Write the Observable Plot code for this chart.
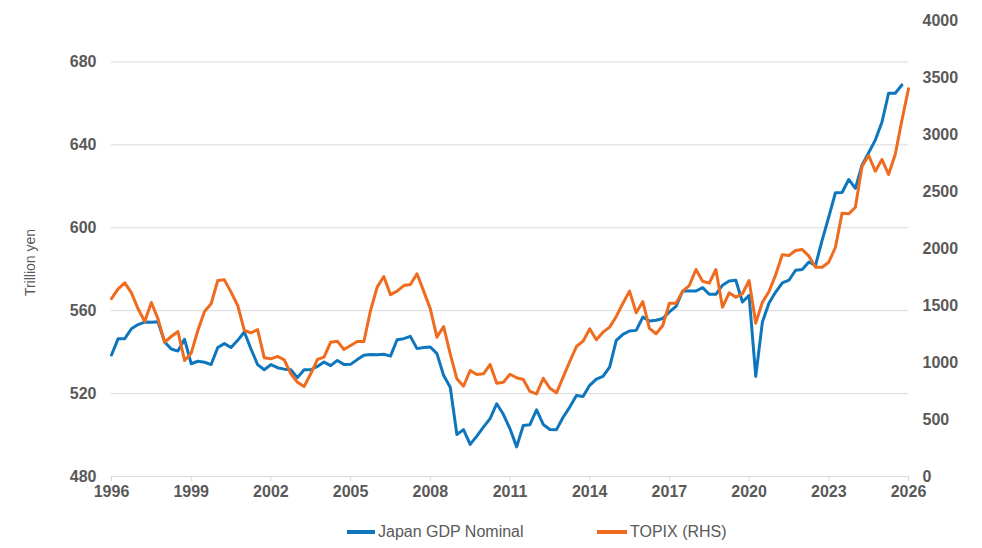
<!DOCTYPE html>
<html>
<head>
<meta charset="utf-8">
<script src="https://cdn.jsdelivr.net/npm/d3@7"></script>
<script src="https://cdn.jsdelivr.net/npm/@observablehq/plot@0.6"></script>
<style>
  html, body { margin: 0; padding: 0; background: #fff; }
  #wrap { position: relative; width: 982px; height: 548px; font-family: "Liberation Sans", Arial, sans-serif; }
  .leg { position: absolute; top: 522px; height: 20px; line-height: 20px; font-size: 16px; color: #595959; white-space: nowrap; }
  .sw { display: inline-block; vertical-align: middle; height: 4px; margin-right: 3px; position: relative; top: -1px; }
</style>
</head>
<body>
<div id="wrap">
  <div id="chart"></div>
  <div class="leg" style="left:347px"><span class="sw" style="width:28px;background:#0e76bc"></span>Japan GDP Nominal</div>
  <div class="leg" style="left:597px"><span class="sw" style="width:30px;background:#ef6b1e"></span>TOPIX (RHS)</div>
</div>
<script>
// Quarterly series starting 1996 Q1
const startYear = 1996;
const gdp = [
  538.6, 546.5, 546.5, 551.3, 553.3, 554.5, 554.4, 554.7, 544.9, 541.5,
  540.5, 546.2, 534.4, 535.6, 535.1, 534.0, 542.2, 544.1, 542.2, 545.7,
  549.7, 541.5, 534.0, 531.5, 534.0, 532.5, 531.8, 531.5, 527.7, 531.5,
  531.5, 533.1, 535.2, 533.5, 536.0, 534.0, 534.1, 536.4, 538.5, 538.9,
  538.7, 539.0, 538.1, 546.0, 546.5, 547.6, 541.7, 542.2, 542.5, 539.3,
  528.8, 523.1, 500.3, 502.6, 495.5, 499.5, 503.8, 507.9, 515.1, 510.0,
  503.0, 494.3, 504.6, 505.0, 512.2, 505.1, 502.7, 502.6, 508.6, 513.5,
  519.1, 518.6, 524.0, 527.0, 528.3, 532.8, 545.7, 548.6, 550.2, 550.5,
  556.9, 555.0, 555.4, 556.2, 559.4, 562.1, 569.5, 569.5, 569.5, 571.1,
  567.9, 567.9, 572.3, 574.3, 574.7, 564.2, 567.4, 528.3, 554.5, 563.7,
  569.0, 573.4, 574.7, 579.5, 579.9, 583.5, 581.9, 594.0, 605.3, 616.9,
  617.0, 623.3, 619.0, 630.2, 636.2, 642.3, 650.9, 664.9, 664.9, 668.9
];
const topix = [
  1560, 1646, 1699, 1611, 1471, 1360, 1526, 1383, 1178, 1228,
  1272, 1018, 1082, 1281, 1447, 1515, 1719, 1725, 1617, 1500,
  1281, 1260, 1289, 1041, 1032, 1053, 1024, 901, 827, 789,
  901, 1026, 1047, 1178, 1187, 1114, 1149, 1184, 1184, 1456,
  1661, 1754, 1594, 1626, 1675, 1684, 1778, 1626, 1471, 1222,
  1316, 1076, 857, 792, 930, 895, 901, 982, 818, 827,
  897, 866, 851, 746, 725, 862, 775, 734, 871, 1009,
  1140, 1187, 1295, 1199, 1266, 1310, 1404, 1520, 1626, 1436,
  1535, 1300, 1252, 1325, 1520, 1520, 1626, 1675, 1816, 1713,
  1696, 1816, 1485, 1611, 1573, 1603, 1719, 1345, 1529, 1623,
  1769, 1945, 1939, 1982, 1991, 1933, 1836, 1836, 1880, 2011,
  2310, 2304, 2362, 2719, 2816, 2678, 2781, 2649, 2825, 3123,
  3401
];
const xTicks = [1996, 1999, 2002, 2005, 2008, 2011, 2014, 2017, 2020, 2023, 2026];
const leftTicks = [480, 520, 560, 600, 640, 680];
const rightTicks = [0, 500, 1000, 1500, 2000, 2500, 3000, 3500, 4000];
const seriesNames = ["Japan GDP Nominal", "TOPIX (RHS)"];

const leftDomain = [480, 700];
const rightDomain = [0, 4000];
const toLeft = v => leftDomain[0] + (v - rightDomain[0]) * (leftDomain[1] - leftDomain[0]) / (rightDomain[1] - rightDomain[0]);
const fromLeft = v => rightDomain[0] + (v - leftDomain[0]) * (rightDomain[1] - rightDomain[0]) / (leftDomain[1] - leftDomain[0]);

const gdpRows = gdp.map((v, i) => ({date: startYear + i / 4, value: v}));
const topixRows = topix.map((v, i) => ({date: startYear + i / 4, value: v}));

const blue = "#0e76bc", orange = "#ef6b1e", grid = "#d9d9d9", ink = "#595959";

const chart = Plot.plot({
  width: 982,
  height: 510,
  marginTop: 20,
  marginBottom: 34,
  marginLeft: 111,
  marginRight: 74,
  x: {domain: [1996, 2026]},
  y: {domain: leftDomain},
  style: {fontFamily: "'Liberation Sans', Arial, sans-serif", fontSize: "16px", fontWeight: "bold", background: "#fff", overflow: "visible"},
  marks: [
    Plot.gridY(leftTicks.slice(1), {stroke: grid, strokeOpacity: 1, strokeWidth: 1}),
    Plot.ruleY([480], {stroke: grid, strokeWidth: 1}),
    Plot.axisX(xTicks, {tickSize: 5, tickPadding: 4, stroke: grid, strokeOpacity: 1, fill: ink, tickFormat: "d", label: null}),
    Plot.axisY(leftTicks, {anchor: "left", tickSize: 0, tickPadding: 15, fill: ink, label: null}),
    Plot.axisY(rightTicks.map(toLeft), {anchor: "right", tickSize: 0, tickPadding: 14, fill: ink, label: null,
      tickFormat: d => String(Math.round(fromLeft(d)))}),
    Plot.text(["Trillion yen"], {frameAnchor: "left", textAnchor: "middle", rotate: -90, dx: -81, dy: 14, fill: ink, fontWeight: "normal", fontSize: 14}),
    Plot.line(gdpRows, {x: "date", y: "value", stroke: blue, strokeWidth: 3}),
    Plot.line(topixRows, {x: "date", y: d => toLeft(d.value), stroke: orange, strokeWidth: 3})
  ]
});
document.getElementById("chart").appendChild(chart);
</script>
</body>
</html>
